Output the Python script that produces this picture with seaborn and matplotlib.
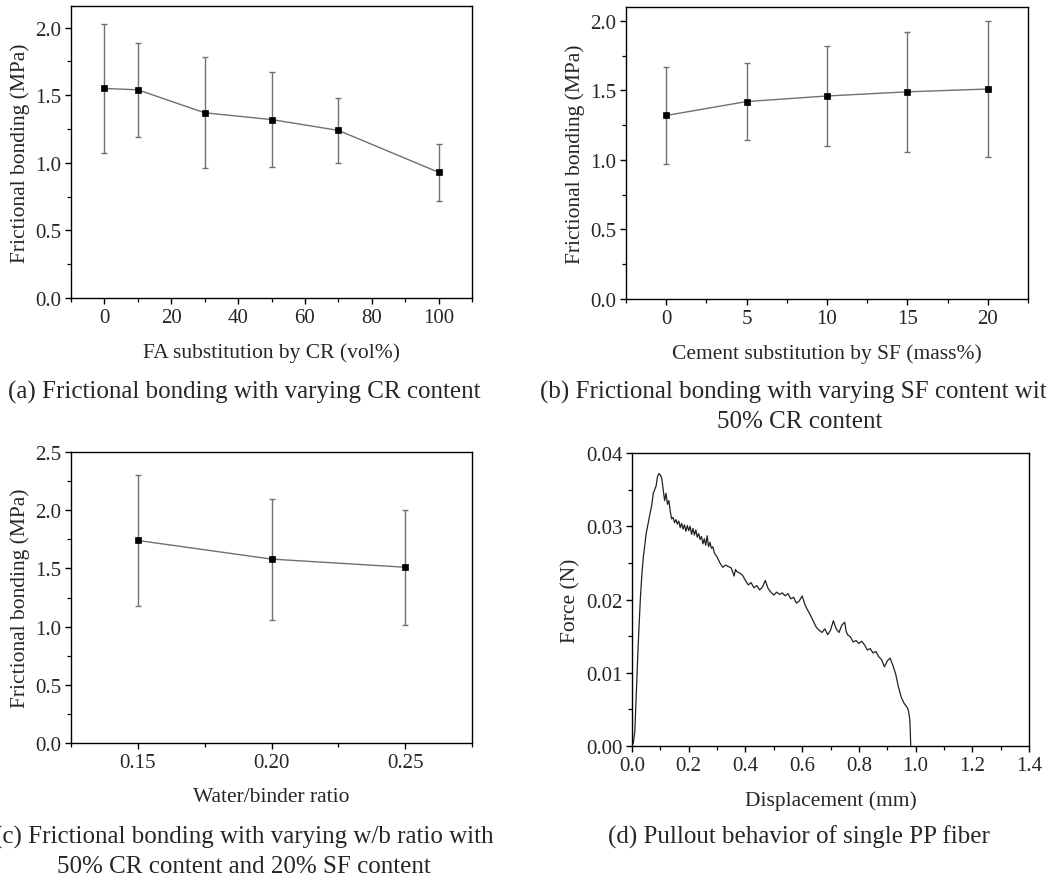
import numpy as np
import pandas as pd
import matplotlib
matplotlib.use("Agg")
import matplotlib.pyplot as plt
from matplotlib.ticker import MultipleLocator, FormatStrFormatter
import seaborn as sns

# ---------------- data ----------------
# (a) FA substitution by CR
cr_content = [0, 10, 30, 50, 70, 100]
cr_bond = [1.55, 1.54, 1.37, 1.32, 1.24, 0.93]
cr_low = [1.07, 1.19, 0.96, 0.97, 1.00, 0.72]
cr_high = [2.03, 1.89, 1.78, 1.67, 1.48, 1.14]

# (b) Cement substitution by SF
sf_content = [0, 5, 10, 15, 20]
sf_bond = [1.32, 1.42, 1.46, 1.49, 1.51]
sf_low = [0.97, 1.14, 1.10, 1.06, 1.02]
sf_high = [1.67, 1.70, 1.82, 1.92, 2.00]

# (c) water/binder ratio
wb_ratio = [0.15, 0.20, 0.25]
wb_bond = [1.74, 1.58, 1.51]
wb_low = [1.18, 1.06, 1.01]
wb_high = [2.30, 2.10, 2.00]

# (d) pullout curve of single PP fibre
disp = [0.000, 0.005, 0.010, 0.015, 0.020, 0.025, 0.030, 0.035, 0.040, 0.050,
        0.060, 0.070, 0.075, 0.080, 0.085, 0.090, 0.095, 0.100, 0.105, 0.110,
        0.115, 0.120, 0.125, 0.130, 0.135, 0.140, 0.145, 0.150, 0.155, 0.160,
        0.165, 0.170, 0.175, 0.180, 0.185, 0.190, 0.195, 0.200, 0.205, 0.210,
        0.215, 0.220, 0.225, 0.230, 0.235, 0.240, 0.245, 0.250, 0.255, 0.260,
        0.265, 0.270, 0.275, 0.280, 0.285, 0.290, 0.300, 0.310, 0.320, 0.330,
        0.340, 0.350, 0.360, 0.365, 0.370, 0.380, 0.390, 0.400, 0.410, 0.420,
        0.430, 0.440, 0.450, 0.460, 0.470, 0.480, 0.490, 0.500, 0.510, 0.520,
        0.530, 0.540, 0.550, 0.560, 0.570, 0.580, 0.590, 0.600, 0.610, 0.620,
        0.630, 0.640, 0.650, 0.660, 0.670, 0.680, 0.690, 0.700, 0.710, 0.720,
        0.730, 0.740, 0.750, 0.755, 0.760, 0.770, 0.780, 0.790, 0.800, 0.810,
        0.820, 0.830, 0.840, 0.850, 0.860, 0.870, 0.880, 0.890, 0.900, 0.910,
        0.920, 0.930, 0.940, 0.950, 0.960, 0.970, 0.975, 0.980, 0.983]
force = [0.0000, 0.0005, 0.0020, 0.0070, 0.0120, 0.0165, 0.0205, 0.0235, 0.0258, 0.0290,
         0.0310, 0.0330, 0.0345, 0.0350, 0.0355, 0.0368, 0.0372, 0.0370, 0.0365, 0.0350,
         0.0335, 0.0345, 0.0330, 0.0335, 0.0320, 0.0310, 0.0312, 0.0305, 0.0309, 0.0303,
         0.0307, 0.0298, 0.0304, 0.0296, 0.0302, 0.0293, 0.0301, 0.0294, 0.0300, 0.0289,
         0.0297, 0.0288, 0.0295, 0.0285, 0.0290, 0.0282, 0.0286, 0.0276, 0.0283, 0.0274,
         0.0287, 0.0272, 0.0278, 0.0270, 0.0272, 0.0264, 0.0258, 0.0250, 0.0244, 0.0247,
         0.0245, 0.0243, 0.0232, 0.0241, 0.0238, 0.0236, 0.0233, 0.0226, 0.0220, 0.0223,
         0.0216, 0.0219, 0.0213, 0.0217, 0.0226, 0.0215, 0.0210, 0.0206, 0.0210, 0.0207,
         0.0209, 0.0205, 0.0208, 0.0201, 0.0203, 0.0195, 0.0198, 0.0205, 0.0193, 0.0185,
         0.0178, 0.0170, 0.0162, 0.0158, 0.0155, 0.0160, 0.0152, 0.0158, 0.0171, 0.0160,
         0.0155, 0.0165, 0.0169, 0.0157, 0.0152, 0.0149, 0.0142, 0.0144, 0.0140, 0.0143,
         0.0138, 0.0131, 0.0133, 0.0127, 0.0129, 0.0122, 0.0118, 0.0108, 0.0116, 0.0120,
         0.0110, 0.0098, 0.0080, 0.0066, 0.0058, 0.0053, 0.0048, 0.0035, 0.0000]

# ---------------- style ----------------
sns.set_style("ticks")
plt.rcParams['font.family'] = ['Liberation Serif', 'DejaVu Serif']

W, H = 1046, 879
fig = plt.figure(figsize=(W / 100, H / 100), dpi=100)


def rect(l, t, r, b):
    return [l / W, 1 - b / H, (r - l) / W, (b - t) / H]


TICK_FS = 15
LAB_FS = 15.5
CAP_FS = 18


def style_axes(ax):
    for s in ax.spines.values():
        s.set_visible(True)
        s.set_color('black')
        s.set_linewidth(1.0)
    ax.tick_params(which='major', direction='out', length=4.5, width=1.0,
                   labelsize=TICK_FS, top=False, right=False, pad=2.5, color='black')
    ax.tick_params(which='minor', direction='out', length=3, width=0.9,
                   top=False, right=False, color='black')
    ax.grid(False)


def bond_panel(ax, x, y, lo, hi, xlim, ylim, xmaj, xmin, xfmt, xlabel):
    df = pd.DataFrame({'x': x, 'y': y})
    yerr = [np.array(y) - np.array(lo), np.array(hi) - np.array(y)]
    ax.errorbar(x, y, yerr=yerr, fmt='none', ecolor='#707070', elinewidth=1.0,
                capsize=2.2, capthick=1.0, zorder=2)
    sns.lineplot(data=df, x='x', y='y', ax=ax, color='#707070', linewidth=1.0,
                 marker='s', markersize=4.6, markerfacecolor='black',
                 markeredgecolor='black', markeredgewidth=0.5, zorder=3)
    ax.set_xlim(*xlim)
    ax.set_ylim(*ylim)
    ax.xaxis.set_major_locator(MultipleLocator(xmaj))
    ax.xaxis.set_minor_locator(MultipleLocator(xmin))
    ax.xaxis.set_major_formatter(FormatStrFormatter(xfmt))
    ax.yaxis.set_major_locator(MultipleLocator(0.5))
    ax.yaxis.set_minor_locator(MultipleLocator(0.25))
    ax.yaxis.set_major_formatter(FormatStrFormatter('%.1f'))
    ax.set_xlabel(xlabel, fontsize=LAB_FS, labelpad=11)
    ax.set_ylabel('Frictional bonding (MPa)', fontsize=LAB_FS, labelpad=4)
    style_axes(ax)


ax_a = fig.add_axes(rect(71, 7, 472, 299))
bond_panel(ax_a, cr_content, cr_bond, cr_low, cr_high, (-10, 110), (0, 2.16),
           20, 10, '%d', 'FA substitution by CR (vol%)')

ax_b = fig.add_axes(rect(626, 8, 1028, 300))
bond_panel(ax_b, sf_content, sf_bond, sf_low, sf_high, (-2.5, 22.5), (0, 2.1),
           5, 2.5, '%d', 'Cement substitution by SF (mass%)')

ax_c = fig.add_axes(rect(71, 453, 472, 744))
bond_panel(ax_c, wb_ratio, wb_bond, wb_low, wb_high, (0.125, 0.275), (0, 2.5),
           0.05, 0.025, '%.2f', 'Water/binder ratio')

ax_d = fig.add_axes(rect(632, 454, 1029, 747))
df_d = pd.DataFrame({'d': disp, 'f': force})
sns.lineplot(data=df_d, x='d', y='f', ax=ax_d, color='#222222', linewidth=0.9,
             sort=False, estimator=None)
ax_d.set_xlim(0, 1.4)
ax_d.set_ylim(0, 0.04)
ax_d.xaxis.set_major_locator(MultipleLocator(0.2))
ax_d.xaxis.set_minor_locator(MultipleLocator(0.1))
ax_d.xaxis.set_major_formatter(FormatStrFormatter('%.1f'))
ax_d.yaxis.set_major_locator(MultipleLocator(0.01))
ax_d.yaxis.set_minor_locator(MultipleLocator(0.005))
ax_d.yaxis.set_major_formatter(FormatStrFormatter('%.2f'))
ax_d.set_xlabel('Displacement (mm)', fontsize=LAB_FS, labelpad=11)
ax_d.set_ylabel('Force (N)', fontsize=LAB_FS, labelpad=4)
style_axes(ax_d)

# captions
def cap(xpx, ypx, text):
    fig.text(xpx / W, 1 - ypx / H, text, ha='center', va='center',
             fontsize=CAP_FS, linespacing=1.45)

cap(244, 392, '(a) Frictional bonding with varying CR content')
cap(800, 407, '(b) Frictional bonding with varying SF content with\n50% CR content')
cap(244, 852, '(c) Frictional bonding with varying w/b ratio with\n50% CR content and 20% SF content')
cap(799, 837, '(d) Pullout behavior of single PP fiber')

fig.savefig('out.png', dpi=100)
